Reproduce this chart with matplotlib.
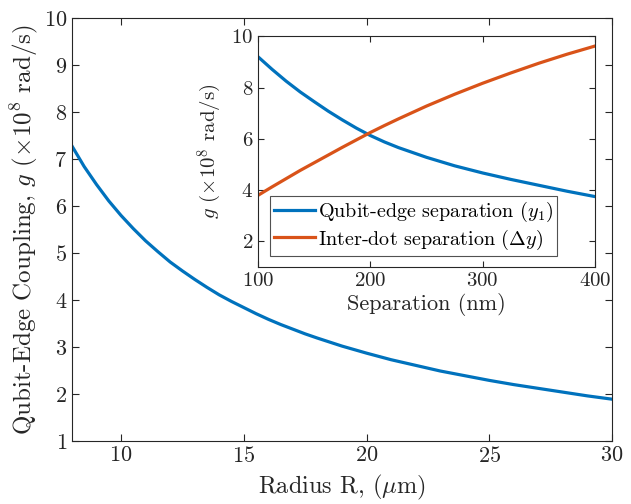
import matplotlib
matplotlib.use("Agg")
import matplotlib.pyplot as plt

plt.rcParams['font.family'] = 'serif'
plt.rcParams['font.serif'] = ['cmr10', 'DejaVu Serif']
plt.rcParams['mathtext.fontset'] = 'cm'
plt.rcParams['axes.formatter.use_mathtext'] = True

# Main data: coupling vs radius
radius = [8, 8.5, 9, 9.5, 10, 10.5, 11, 11.5, 12, 12.5, 13, 13.5, 14, 14.5, 15, 15.5, 16,
          16.5, 17, 17.5, 18, 19, 20, 21, 22, 23, 24, 25, 26, 27, 28, 29, 30]
coupling = [7.28, 6.84, 6.46, 6.11, 5.80, 5.52, 5.26, 5.03, 4.81, 4.62, 4.44, 4.27, 4.11,
            3.97, 3.84, 3.71, 3.59, 3.48, 3.38, 3.28, 3.19, 3.02, 2.87, 2.73, 2.61, 2.49,
            2.39, 2.29, 2.20, 2.12, 2.04, 1.96, 1.89]

# Inset data
separation = [100, 112.5, 125, 137.5, 150, 162.5, 175, 187.5, 200, 212.5, 225, 250, 275, 300,
              325, 350, 375, 400]
g_qubit_edge = [9.2, 8.71, 8.25, 7.83, 7.45, 7.08, 6.74, 6.42, 6.13, 5.88, 5.66, 5.28, 4.95,
                4.67, 4.42, 4.19, 3.96, 3.75]
g_inter_dot = [3.8, 4.13, 4.45, 4.77, 5.07, 5.37, 5.67, 5.96, 6.25, 6.52, 6.78, 7.28, 7.74,
               8.17, 8.57, 8.95, 9.30, 9.62]

blue = '#0072BD'
orange = '#D95319'
dark = '#262626'

fig = plt.figure(figsize=(6.31, 5.04), dpi=100)
ax = fig.add_axes([0.114, 0.125, 0.856, 0.839])
ax.plot(radius, coupling, color=blue, lw=2.3, solid_joinstyle='round')
ax.set_xlim(8, 30)
ax.set_ylim(1, 10)
ax.set_xticks([10, 15, 20, 25, 30])
ax.set_yticks(range(1, 11))
ax.tick_params(direction='in', top=True, right=True, labelsize=16, length=5, color=dark,
               labelcolor=dark)
for s in ax.spines.values():
    s.set_color(dark)
ax.set_xlabel(r'Radius R, ($\mu$m)', fontsize=17.5, color=dark, labelpad=5)
ax.set_ylabel(r'Qubit-Edge Coupling, $g$ ($\times 10^8$ rad/s)', fontsize=18, color=dark,
              labelpad=3)

ins = fig.add_axes([0.409, 0.470, 0.534, 0.458])
ins.plot(separation, g_qubit_edge, color=blue, lw=2.3, label=r'Qubit-edge separation ($y_1$)')
ins.plot(separation, g_inter_dot, color=orange, lw=2.3, label=r'Inter-dot separation ($\Delta y$)')
ins.set_xlim(100, 400)
ins.set_ylim(1, 10)
ins.set_xticks([100, 200, 300, 400])
ins.set_yticks([2, 4, 6, 8, 10])
ins.tick_params(direction='in', top=True, right=True, labelsize=15, length=4, color=dark,
                labelcolor=dark)
for s in ins.spines.values():
    s.set_color(dark)
ins.set_xlabel('Separation (nm)', fontsize=16, color=dark, labelpad=2)
ins.set_ylabel(r'$g$ ($\times 10^8$ rad/s)', fontsize=15, color=dark, labelpad=5)
leg = ins.legend(loc='lower left', bbox_to_anchor=(0.035, 0.05), fontsize=14.5, fancybox=False,
                 edgecolor=dark, handlelength=2.05, handletextpad=0.15, borderpad=0.2,
                 labelspacing=0.15, borderaxespad=0)
leg.get_frame().set_linewidth(0.8)

fig.savefig('out.png', dpi=100)
